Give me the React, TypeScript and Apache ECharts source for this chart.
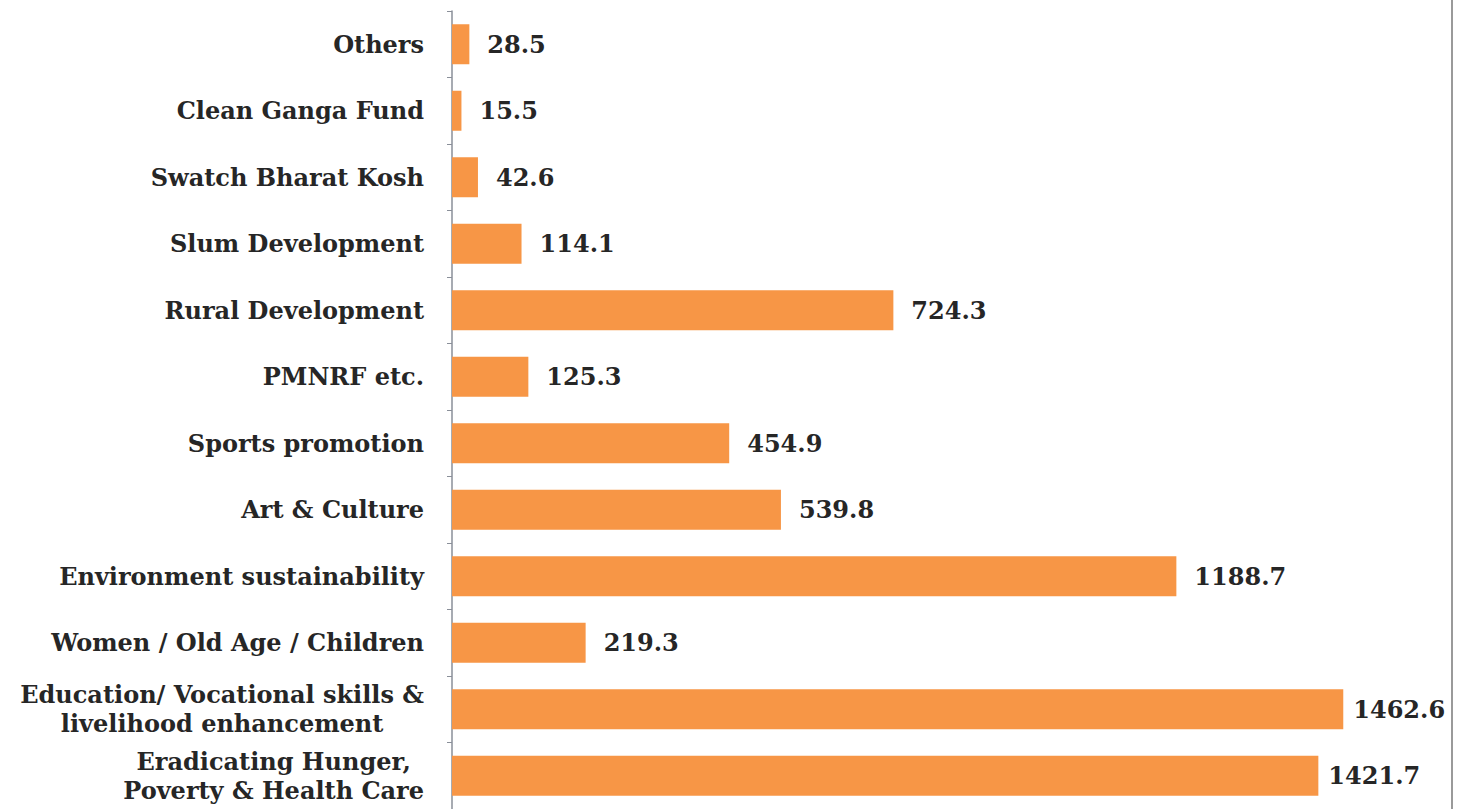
import React, { useEffect, useRef } from "react";
import * as echarts from "echarts";

const categories = [
  "Others",
  "Clean Ganga Fund",
  "Swatch Bharat Kosh",
  "Slum Development",
  "Rural Development",
  "PMNRF etc.",
  "Sports promotion",
  "Art & Culture",
  "Environment sustainability",
  "Women / Old Age / Children",
  "Education/ Vocational skills &\nlivelihood enhancement",
  "Eradicating Hunger,\nPoverty & Health Care",
];

const values = [28.5, 15.5, 42.6, 114.1, 724.3, 125.3, 454.9, 539.8, 1188.7, 219.3, 1462.6, 1421.7];

const FONT = "'DejaVu Serif', serif";

export default function App() {
  const ref = useRef<HTMLDivElement>(null);
  useEffect(() => {
    document.body.style.margin = "0";
    const chart = echarts.init(ref.current!, null, { renderer: "svg" });
    const seriesData = values.map((v, i) =>
      i >= values.length - 2 ? { value: v, label: { distance: 10 } } : { value: v }
    );
    chart.setOption({
      animation: false,
      backgroundColor: "#ffffff",
      grid: { left: 452, right: 36, top: 11, bottom: -3, containLabel: false },
      xAxis: {
        type: "value",
        min: 0,
        max: 1600,
        show: false,
      },
      yAxis: {
        type: "category",
        inverse: true,
        data: categories,
        axisLine: { show: true, lineStyle: { color: "#8a8f99", width: 1.5 } },
        axisTick: { show: true, length: 5, inside: false, lineStyle: { color: "#8a8f99" } },
        axisLabel: {
          margin: 28,
          fontFamily: FONT,
          fontWeight: "bold",
          fontSize: 24,
          color: "#262626",
          lineHeight: 29,
          formatter: (v: string) =>
            v
              .split("\n")
              .map((l) => "{c|" + l + "}")
              .join("\n"),
          rich: {
            c: {
              align: "center",
              fontFamily: FONT,
              fontWeight: "bold",
              fontSize: 24,
              color: "#262626",
              lineHeight: 29,
            },
          },
        },
      },
      series: [
        {
          type: "bar",
          data: seriesData,
          barWidth: 40,
          itemStyle: { color: "#F79646" },
          label: {
            show: true,
            position: "right",
            distance: 18,
            fontFamily: FONT,
            fontWeight: "bold",
            fontSize: 24,
            color: "#262626",
            formatter: (p: any) => Number(p.value).toFixed(1),
          },
        },
      ],
      graphic: [
        {
          type: "line",
          shape: { x1: 1452, y1: 0, x2: 1452, y2: 809 },
          style: { stroke: "#9a9a9a", lineWidth: 2 },
        },
      ],
    });
    return () => chart.dispose();
  }, []);
  return (
    <div
      ref={ref}
      style={{ position: "absolute", left: 0, top: 0, width: 1463, height: 809 }}
    />
  );
}
